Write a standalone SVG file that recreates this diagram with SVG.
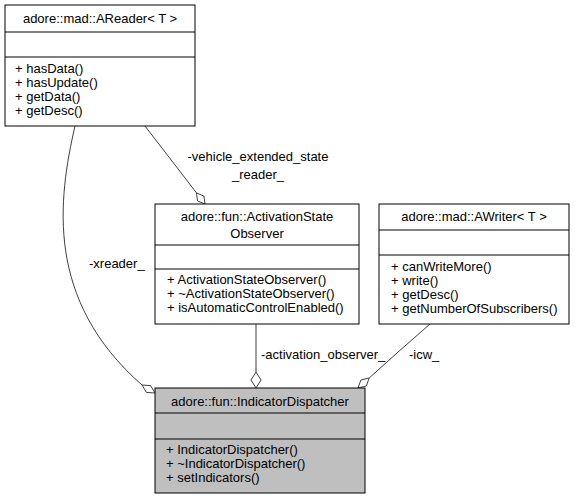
<svg xmlns="http://www.w3.org/2000/svg" width="575" height="500" viewBox="0 0 575 500">
<style>
text{font-family:"Liberation Sans",Arial,sans-serif;font-size:13px;fill:#000}
.c{text-anchor:middle}
.box{fill:#fff;stroke:#000;stroke-width:1}
.hl{fill:#bfbfbf;stroke:#000;stroke-width:1}
.sep{stroke:#000;stroke-width:1}
.edge{fill:none;stroke:#404040;stroke-width:1}
.dia{fill:#fff;stroke:#404040;stroke-width:1}
</style>
<rect width="575" height="500" fill="#fff"/>
<g id="connectors">
<path class="edge" d="M145,126 L196.5,192.9"/>
<polygon class="dia" points="205,204 197.5,200.9 196.5,192.9 203.9,196.1"/>
<text class="c" x="258" y="161">-vehicle_extended_state</text>
<text class="c" x="258" y="179">_reader_</text>
<path class="edge" d="M75,126 C58,200 45,300 142,385"/>
<polygon class="dia" points="155,393 146.4,392.4 142,385 150.6,385.6"/>
<text x="89" y="268">-xreader_</text>
<path class="edge" d="M256,324 L256,372"/>
<polygon class="dia" points="256,388 261,380 256,372 251,380"/>
<text x="261" y="359">-activation_observer_</text>
<path class="edge" d="M430,324 Q400,350 369.2,378"/>
<polygon class="dia" points="358,388 366.3,386 369.2,378 360.9,380"/>
<text x="409" y="359">-icw_</text>
</g>
<g id="AReader">
<rect class="box" x="5" y="5" width="190" height="121"/>
<line class="sep" x1="5" y1="32" x2="195" y2="32"/>
<line class="sep" x1="5" y1="57" x2="195" y2="57"/>
<text class="c" x="100" y="23">adore::mad::AReader&lt; T &gt;</text>
<text x="15" y="73">+ hasData()</text>
<text x="15" y="87">+ hasUpdate()</text>
<text x="15" y="101">+ getData()</text>
<text x="15" y="115">+ getDesc()</text>
</g>
<g id="ActivationStateObserver">
<rect class="box" x="155" y="204" width="204" height="120"/>
<line class="sep" x1="155" y1="245" x2="359" y2="245"/>
<line class="sep" x1="155" y1="269" x2="359" y2="269"/>
<text class="c" x="257" y="221">adore::fun::ActivationState</text>
<text class="c" x="257" y="238">Observer</text>
<text x="167" y="284">+ ActivationStateObserver()</text>
<text x="167" y="298">+ ~ActivationStateObserver()</text>
<text x="167" y="312">+ isAutomaticControlEnabled()</text>
</g>
<g id="AWriter">
<rect class="box" x="379" y="204" width="190" height="120"/>
<line class="sep" x1="379" y1="230" x2="569" y2="230"/>
<line class="sep" x1="379" y1="255" x2="569" y2="255"/>
<text class="c" x="474" y="221">adore::mad::AWriter&lt; T &gt;</text>
<text x="391" y="271">+ canWriteMore()</text>
<text x="391" y="285">+ write()</text>
<text x="391" y="299">+ getDesc()</text>
<text x="391" y="313">+ getNumberOfSubscribers()</text>
</g>
<g id="IndicatorDispatcher">
<rect class="hl" x="155" y="388" width="210" height="105"/>
<line class="sep" x1="155" y1="413" x2="365" y2="413"/>
<line class="sep" x1="155" y1="439" x2="365" y2="439"/>
<text class="c" x="260" y="406">adore::fun::IndicatorDispatcher</text>
<text x="166" y="454">+ IndicatorDispatcher()</text>
<text x="166" y="468">+ ~IndicatorDispatcher()</text>
<text x="166" y="482">+ setIndicators()</text>
</g>
</svg>
